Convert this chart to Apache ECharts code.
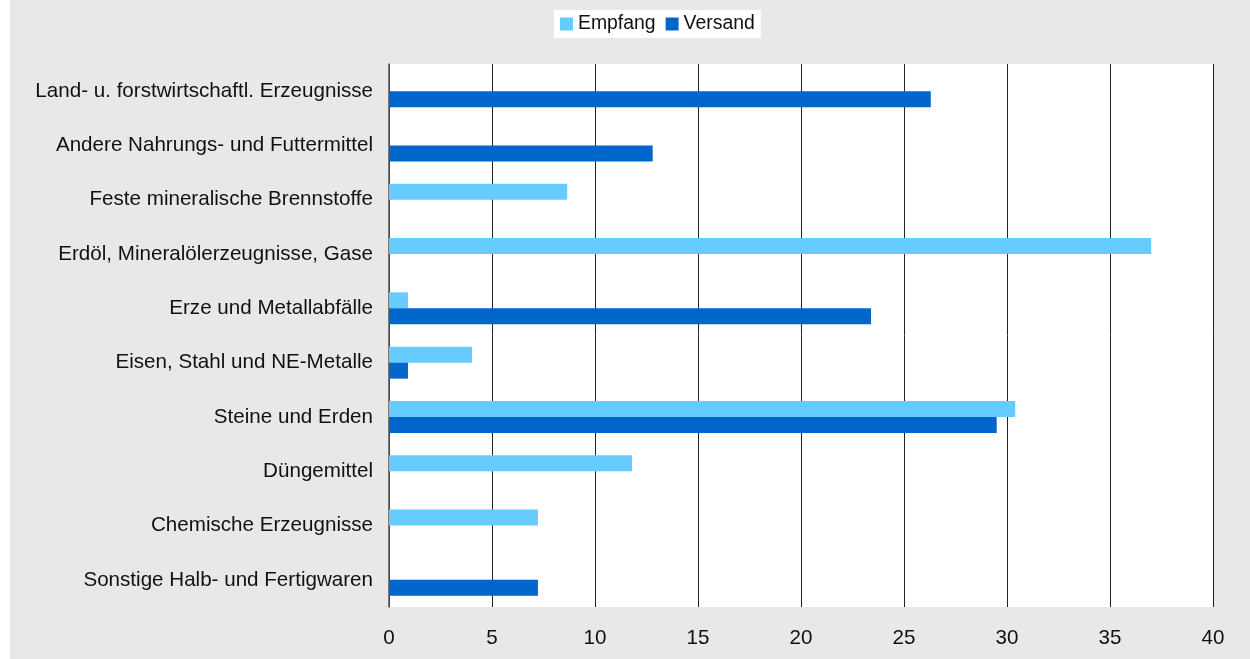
<!DOCTYPE html>
<html><head><meta charset="utf-8">
<script src="https://cdn.jsdelivr.net/npm/echarts@6/dist/echarts.min.js"></script>
<style>html,body{margin:0;padding:0;background:#fff;}#c{position:absolute;left:10px;top:0;width:1240px;height:659px;}</style>
</head><body><div id="c"></div>
<script>
const categories = ["Land- u. forstwirtschaftl. Erzeugnisse","Andere Nahrungs- und Futtermittel","Feste mineralische Brennstoffe","Erdöl, Mineralölerzeugnisse, Gase","Erze und Metallabfälle","Eisen, Stahl und NE-Metalle","Steine und Erden","Düngemittel","Chemische Erzeugnisse","Sonstige Halb- und Fertigwaren"];
const empfang = [null,null,8.65,37.0,0.92,4.03,30.4,11.8,7.23,null];
const versand = [26.3,12.8,null,null,23.4,0.92,29.5,null,null,7.23];
const xTicks = [0,5,10,15,20,25,30,35,40];
const chart = echarts.init(document.getElementById('c'));
const font = "Arial, 'Liberation Sans', sans-serif";
const fs = 20.6;
chart.setOption({
  backgroundColor:'#e8e8e8',
  animation:false,
  textStyle:{fontFamily:font},
  legend:{top:10,left:544,backgroundColor:'#fff',padding:[4,6],itemWidth:13,itemHeight:13,itemGap:10,icon:'rect',
    textStyle:{fontSize:19.4,color:'#111',fontFamily:font,lineHeight:20},data:['Empfang','Versand']},
  grid:{left:379,right:37,top:64,bottom:52,show:true,backgroundColor:'#fff',borderWidth:0},
  xAxis:{type:'value',min:xTicks[0],max:xTicks[xTicks.length-1],interval:5,
    axisLine:{show:false},axisTick:{show:false},
    axisLabel:{fontSize:fs,color:'#111',margin:21,fontFamily:font},
    splitLine:{show:true,lineStyle:{color:'#222',width:1}}},
  yAxis:{type:'category',data:categories,inverse:true,
    axisLine:{show:true,lineStyle:{color:'#555',width:1.5}},axisTick:{show:false},
    axisLabel:{fontSize:fs,color:'#111',margin:16,fontFamily:font}},
  series:[
    {name:'Empfang',type:'bar',data:empfang,itemStyle:{color:'#66ccff'},barWidth:16,barGap:'0%'},
    {name:'Versand',type:'bar',data:versand,itemStyle:{color:'#0066cc'},barWidth:16,barGap:'0%'}
  ]
});
</script></body></html>
